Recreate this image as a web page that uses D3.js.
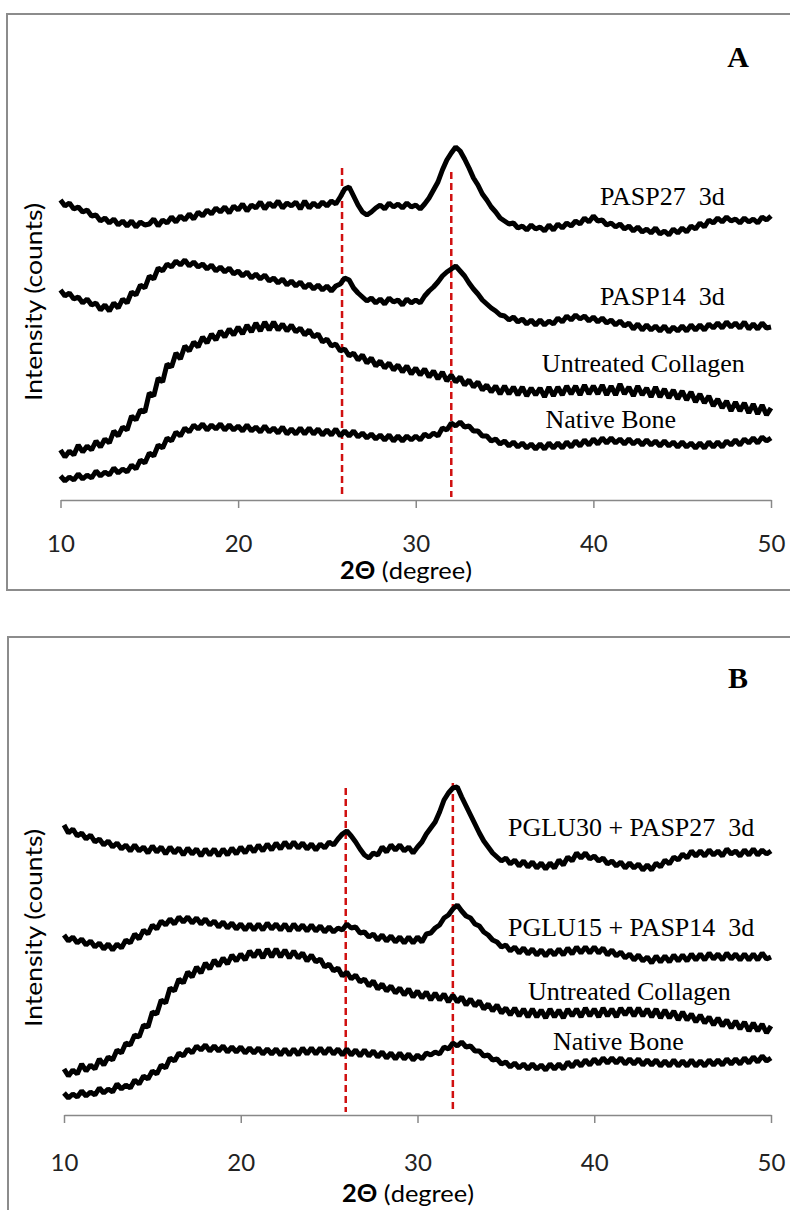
<!DOCTYPE html>
<html>
<head>
<meta charset="utf-8">
<script src="https://cdn.jsdelivr.net/npm/d3@7"></script>
<style>
body { margin: 0; background: #fff; }
.lbl { white-space: pre; }
</style>
</head>
<body>
<script>
// 2-theta sampling grid of the scans (degrees)
const angleStep = 0.25;
const angles = d3.range(10, 50 + angleStep / 2, angleStep);
const tickValues = [10, 20, 30, 40, 50];

const namesA = ['PASP27  3d', 'PASP14  3d', 'Untreated Collagen', 'Native Bone'];
const namesB = ['PGLU30 + PASP27  3d', 'PGLU15 + PASP14  3d', 'Untreated Collagen', 'Native Bone'];

// intensities (a.u., stacked offsets as in the figure), one value per angle
const pasp27A = [300,294,297,291, 293,288,290,284, 285,279,282,277, 281,275,279,274, 279,273,278,275, 276,281,274,280, 277,283,278,284, 280,286,281,288, 284,290,286,292, 288,293,287,294, 290,296,289,295, 292,298,291,297, 293,299,292,297, 294,298,291,299, 292,297,293,298, 294,299,296,303, 311,313,304,295, 288,285,288,292, 295,291,297,293, 296,292,297,293, 295,291,296,302, 310,318,330,340, 347,353,349,341, 332,322,315,306, 300,293,288,282, 279,276,277,272, 274,270,275,271, 273,269,275,270, 276,272,277,274, 279,276,282,278, 284,279,280,275, 277,273,276,271, 274,269,273,268, 271,267,272,266, 269,265,271,267, 272,268,274,271, 277,273,280,277, 282,278,283,279, 281,277,282,278, 281,277,283,280, 284];
const pasp14A = [210,204,207,201, 203,197,201,195, 197,190,195,189, 197,192,201,197, 208,205,215,212, 224,221,232,229, 236,233,239,235, 240,234,238,233, 236,231,235,229, 233,228,232,226, 229,224,228,222, 226,221,225,219, 222,217,221,215, 219,214,218,212, 216,211,215,210, 214,209,214,216, 222,220,212,207, 203,199,202,197, 201,196,202,198, 200,195,201,197, 200,197,204,209, 213,218,224,228, 231,234,229,224, 217,211,206,200, 196,192,189,185, 184,180,183,178, 181,176,180,175, 180,175,179,176, 182,178,184,180, 185,181,184,179, 183,178,182,177, 180,175,179,174, 177,171,176,170, 175,170,174,169, 174,168,173,169, 174,169,175,170, 175,170,176,172, 177,172,178,173, 177,172,178,171, 176,171,177,172, 173];
const collagenA = [50,43,49,45, 55,48,54,50, 59,53,61,57, 69,64,73,70, 84,80,90,88, 107,104,122,118, 136,133,147,141, 154,149,158,153, 163,157,166,160, 169,163,171,165, 173,166,175,168, 177,169,178,170, 178,170,176,169, 175,168,172,165, 170,163,166,158, 161,154,156,149, 151,144,147,140, 145,137,142,134, 139,132,137,130, 135,128,134,126, 132,125,131,123, 129,121,128,119, 125,118,123,115, 120,113,118,110, 115,108,114,106, 114,106,113,105, 113,104,112,105, 112,103,113,104, 113,105,114,106, 114,105,115,106, 114,106,115,105, 114,105,116,106, 113,104,114,105, 112,103,113,103, 111,102,110,101, 109,100,108,98, 106,97,104,94, 101,92,99,89, 98,89,97,87, 96,86,95,85, 92];
const boneA = [24,19,23,20, 26,21,25,22, 29,24,28,25, 32,27,31,28, 35,31,40,37, 47,44,55,52, 62,59,68,64, 72,68,75,71, 76,70,75,71, 76,70,75,70, 74,69,75,69, 73,68,74,68, 72,67,73,66, 71,66,72,66, 72,66,71,65, 70,65,71,64, 69,64,69,63, 67,62,66,61, 65,60,65,59, 64,59,64,60, 64,60,66,63, 67,64,72,70, 77,74,78,73, 74,69,69,64, 64,59,61,56, 59,54,58,53, 57,52,56,51, 56,51,57,52, 57,52,58,53, 59,54,60,55, 61,56,62,57, 62,57,61,56, 61,56,60,55, 60,55,59,54, 59,54,58,53, 58,53,57,52, 57,52,58,53, 58,53,59,55, 60,55,61,57, 62,57,63,59, 62];

const pglu30B = [290,282,286,279, 282,276,280,273, 276,270,274,268, 272,266,270,264, 270,264,268,262, 269,263,268,261, 268,262,267,260, 267,261,266,259, 266,260,266,259, 266,260,267,261, 268,262,269,263, 270,264,271,265, 272,266,273,267, 273,267,272,266, 271,265,271,267, 273,270,276,281, 284,279,273,266, 260,257,262,260, 268,263,270,265, 270,264,268,262, 268,273,281,287, 293,303,315,322, 327,328,318,309, 300,291,282,274, 268,262,258,254, 257,251,255,249, 254,248,253,247, 252,246,252,247, 255,250,258,254, 262,257,262,256, 259,254,257,251, 254,249,253,247, 252,247,251,245, 250,245,252,248, 255,251,258,255, 261,257,264,259, 264,259,265,260, 264,259,266,261, 264,259,265,260, 266,260,265,261, 264];
const pglu15B = [180,174,178,172, 176,170,174,168, 172,166,171,165, 171,167,175,172, 181,176,185,181, 190,186,194,190, 196,191,198,193, 198,192,197,191, 196,190,194,188, 193,187,192,186, 191,185,191,185, 191,185,192,186, 191,185,191,184, 191,185,190,184, 190,184,189,183, 188,183,187,185, 191,187,188,182, 183,178,181,175, 180,174,179,173, 178,172,178,172, 178,173,181,182, 187,190,197,200, 206,210,204,199, 197,191,189,183, 180,175,173,168, 170,164,168,162, 167,161,166,160, 165,159,165,160, 166,160,167,161, 168,162,168,162, 168,162,167,160, 165,159,163,157, 161,155,160,154, 158,152,159,153, 159,153,160,154, 160,154,161,155, 161,155,162,156, 161,155,162,156, 161,155,161,155, 161,155,162,156, 158];
const collagenB = [46,39,45,41, 51,44,50,46, 56,50,58,55, 65,62,72,70, 80,78,90,88, 103,101,115,112, 127,124,136,132, 143,138,148,142, 152,146,155,149, 157,151,160,154, 161,155,164,158, 165,157,166,158, 166,158,165,157, 164,157,162,154, 160,153,156,148, 151,144,147,139, 143,136,140,133, 136,129,134,126, 131,124,129,122, 127,120,126,118, 124,117,123,115, 122,115,121,113, 120,113,118,110, 116,109,114,106, 111,104,110,102, 107,100,107,99, 106,98,106,98, 105,97,106,98, 105,97,106,99, 106,98,107,99, 106,98,107,99, 106,98,107,100, 107,99,107,99, 106,98,106,97, 105,97,104,95, 103,95,101,93, 100,92,98,90, 97,89,95,87, 94,86,93,84, 92,84,91,82, 89];
const boneB = [22,17,21,18, 24,19,23,20, 27,22,26,23, 31,26,30,27, 35,31,39,36, 44,41,50,47, 57,54,62,59, 66,62,69,65, 70,64,69,64, 69,63,68,63, 68,62,67,62, 67,61,66,61, 66,60,66,60, 66,60,67,61, 67,61,67,61, 67,61,66,60, 66,60,65,59, 65,59,64,58, 63,57,62,56, 62,56,61,55, 60,56,62,60, 63,61,68,66, 72,69,73,68, 69,64,64,59, 60,55,56,51, 53,48,52,47, 51,46,51,46, 50,45,51,46, 51,46,53,48, 54,49,55,50, 56,51,57,52, 57,52,57,51, 56,51,56,50, 55,50,55,49, 54,49,55,49, 54,49,55,49, 54,49,55,50, 55,50,56,51, 56,51,57,52, 58,53,59,54, 57];

// reference peak positions (2theta) and the intensity where each dashed line starts
const peaksA = [25.85, 32.0];
const peakTopsA = [332, 328];
const peaksB = [25.94, 32.0];
const peakTopsB = [327, 332];

const svg = d3.select('body').append('svg')
    .attr('width', 790).attr('height', 1210)
    .style('display', 'block');

function drawPanel(p) {
    const g = svg.append('g');
    g.append('rect')
        .attr('x', p.frame[0]).attr('y', p.frame[1])
        .attr('width', p.frame[2]).attr('height', p.frame[3])
        .attr('fill', 'none').attr('stroke', '#8c8c8c').attr('stroke-width', 2);

    const x = d3.scaleLinear().domain([10, 50]).range([p.left, p.right]);
    const y = d3.scaleLinear().domain([0, 350]).range([p.bottom, p.bottom - 350]);

    const ax = g.append('g').attr('transform', `translate(0,${p.bottom})`)
        .call(d3.axisBottom(x).tickValues(tickValues).tickSize(8).tickSizeOuter(0));
    ax.select('.domain').attr('stroke', '#888').attr('stroke-width', 1.5);
    ax.selectAll('.tick line').attr('stroke', '#888').attr('stroke-width', 1.5);
    ax.selectAll('.tick text')
        .attr('y', p.tickOff).attr('dy', '0.36em')
        .attr('font-family', 'Lato, sans-serif').attr('font-size', 24).attr('fill', '#222');

    const title = g.append('text')
        .attr('x', p.titleX).attr('y', p.bottom + p.titleOff).attr('dy', '0.36em')
        .attr('text-anchor', 'middle')
        .attr('font-family', 'Lato, sans-serif').attr('font-size', 24)
        .attr('textLength', 132).attr('lengthAdjust', 'spacingAndGlyphs');
    title.append('tspan').attr('font-weight', 'bold').text('2Θ');
    title.append('tspan').text(' (degree)');

    g.append('text')
        .attr('transform', `translate(33,${p.ylabelY}) rotate(-90)`)
        .attr('text-anchor', 'middle').attr('dy', '0.36em')
        .attr('font-family', 'Lato, sans-serif').attr('font-size', 24)
        .attr('textLength', 198).attr('lengthAdjust', 'spacingAndGlyphs')
        .text('Intensity (counts)');

    g.selectAll('.peak').data(p.peaks).enter().append('line')
        .attr('x1', d => x(d)).attr('x2', d => x(d))
        .attr('y1', (d, i) => y(p.peakTops[i])).attr('y2', y(3))
        .attr('stroke', '#d01010').attr('stroke-width', 2.5)
        .attr('stroke-dasharray', '7,4');

    const line = d3.line().x((d, i) => x(angles[i])).y(d => y(d));
    g.selectAll('.trace').data(p.series).enter().append('path')
        .attr('d', line)
        .attr('fill', 'none').attr('stroke', '#000')
        .attr('stroke-width', 5).attr('stroke-linejoin', 'bevel');

    g.selectAll('.lbl').data(p.names).enter().append('text')
        .attr('class', 'lbl')
        .attr('x', (d, i) => x(p.labelAt[i][0]))
        .attr('y', (d, i) => y(p.labelAt[i][1]))
        .attr('font-family', '"Liberation Serif", "Times New Roman", serif')
        .attr('font-size', 26)
        .text(d => d);

    g.append('text')
        .attr('x', 738).attr('y', p.letterY).attr('text-anchor', 'middle')
        .attr('font-family', '"Liberation Serif", "Times New Roman", serif')
        .attr('font-weight', 'bold').attr('font-size', 30)
        .text(p.letter);
}

drawPanel({
    frame: [7, 14, 800, 576], left: 60.5, right: 771, bottom: 500,
    tickOff: 43, titleX: 406, titleOff: 70, ylabelY: 302,
    series: [pasp27A, pasp14A, collagenA, boneA], names: namesA,
    labelAt: [[40.37, 295], [40.37, 195], [37.1, 128], [37.3, 72]],
    peaks: peaksA, peakTops: peakTopsA, letter: 'A', letterY: 67
});

drawPanel({
    frame: [8, 637, 800, 620], left: 64, right: 771, bottom: 1115,
    tickOff: 47, titleX: 408, titleOff: 78, ylabelY: 928,
    series: [pglu30B, pglu15B, collagenB, boneB], names: namesB,
    labelAt: [[35.12, 279], [35.12, 179], [36.25, 115], [37.67, 65]],
    peaks: peaksB, peakTops: peakTopsB, letter: 'B', letterY: 688
});
</script>
</body>
</html>
